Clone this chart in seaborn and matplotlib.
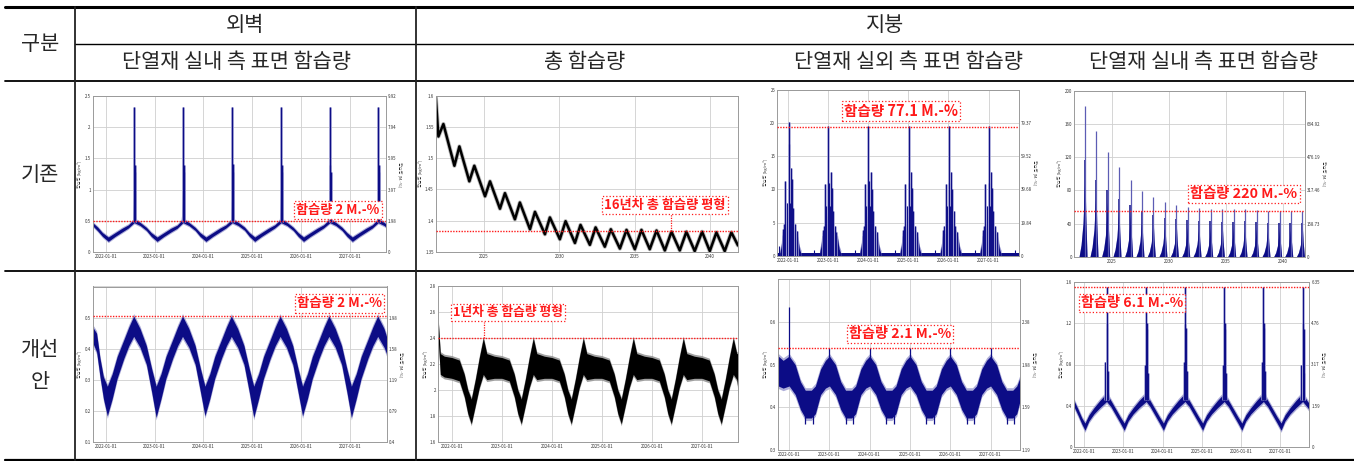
import matplotlib
matplotlib.use("Agg")
import matplotlib.pyplot as plt
import seaborn as sns

sns.set_theme(style="whitegrid")
plt.rcParams['font.family'] = ['Noto Sans CJK KR', 'DejaVu Sans']
plt.rcParams['axes.unicode_minus'] = False

W, H = 1354, 461
NAVY = '#0c0c86'
HALO = '#9a9ad0'
RED = '#ff1a1a'

# ---------------- table texts ----------------
corner = '구분'
col_groups = ['외벽', '지붕']
col_titles = ['단열재 실내 측 표면 함습량', '총 함습량',
              '단열재 실외 측 표면 함습량', '단열재 실내 측 표면 함습량']
row_titles = ['기존', '개선\n안']

date_ticks = [2022, 2023, 2024, 2025, 2026, 2027]
date_labels = ['2022-01-01', '2023-01-01', '2024-01-01',
               '2025-01-01', '2026-01-01', '2027-01-01']
year_ticks = [2025, 2030, 2035, 2040]
year_labels = ['2025', '2030', '2035', '2040']

# ---------------- 1. 기존 외벽 : 단열재 실내 측 ----------------
ow_t = [2021.73, 2021.83, 2021.93,
        2022.05, 2022.19, 2022.33, 2022.46, 2022.58, 2022.70, 2022.83, 2022.93,
        2023.05, 2023.19, 2023.33, 2023.46, 2023.58, 2023.70, 2023.83, 2023.93,
        2024.05, 2024.19, 2024.33, 2024.46, 2024.59, 2024.71, 2024.84, 2024.94,
        2025.05, 2025.19, 2025.33, 2025.46, 2025.59, 2025.71, 2025.84, 2025.94,
        2026.05, 2026.19, 2026.33, 2026.46, 2026.59, 2026.71, 2026.84, 2026.94,
        2027.05, 2027.19, 2027.33, 2027.46, 2027.58, 2027.70, 2027.74]
ow_lo = [0.42, 0.34, 0.25,
         0.17, 0.25, 0.32, 0.385, 0.47, 0.425, 0.345, 0.25,
         0.17, 0.25, 0.32, 0.380, 0.47, 0.425, 0.345, 0.25,
         0.17, 0.25, 0.32, 0.385, 0.47, 0.425, 0.350, 0.25,
         0.17, 0.25, 0.32, 0.385, 0.47, 0.425, 0.345, 0.25,
         0.17, 0.25, 0.32, 0.385, 0.47, 0.425, 0.345, 0.25,
         0.17, 0.25, 0.32, 0.385, 0.47, 0.425, 0.40]
ow_hi = [0.47, 0.40, 0.31,
         0.24, 0.31, 0.38, 0.435, 0.53, 0.475, 0.395, 0.31,
         0.24, 0.31, 0.38, 0.430, 0.53, 0.475, 0.395, 0.31,
         0.24, 0.31, 0.38, 0.435, 0.53, 0.475, 0.400, 0.31,
         0.24, 0.31, 0.38, 0.435, 0.53, 0.475, 0.395, 0.31,
         0.24, 0.31, 0.38, 0.435, 0.53, 0.475, 0.395, 0.31,
         0.24, 0.31, 0.38, 0.435, 0.53, 0.475, 0.45]
ow_pk_t = [2022.58, 2023.58, 2024.59, 2025.59, 2026.59, 2027.58]
ow_pk_h = [2.32, 2.32, 2.32, 2.32, 2.32, 2.32]
ow_pk_h2 = [1.40, 1.40, 1.41, 1.40, 1.40, 1.40]
ow_pk_h3 = [1.29, 1.29, 1.28, 1.29, 1.29, 1.29]
ow_pk_core = [0.95, 0.95, 0.95, 0.95, 0.95, 0.95]

# ---------------- 2. 기존 지붕 : 총 함습량 ----------------
ot_t = [2021.80, 2021.98, 2022.31, 2023.04, 2023.37, 2024.03, 2024.36, 2025.07,
        2025.40, 2026.06, 2026.39, 2027.05, 2027.38, 2028.05, 2028.38, 2029.04,
        2029.37, 2030.03, 2030.41, 2031.03, 2031.40, 2032.02, 2032.40, 2033.01,
        2033.41, 2034.01, 2034.45, 2035.00, 2035.44, 2035.99, 2036.44, 2036.99,
        2037.43, 2037.98, 2038.42, 2038.97, 2039.46, 2039.97, 2040.41, 2040.96,
        2041.40, 2041.84]
ot_v = [1.600, 1.535, 1.555, 1.488, 1.519, 1.463, 1.488, 1.439, 1.463, 1.419,
        1.444, 1.402, 1.429, 1.386, 1.414, 1.378, 1.405, 1.370, 1.399, 1.364,
        1.393, 1.361, 1.389, 1.358, 1.386, 1.355, 1.385, 1.354, 1.385, 1.354,
        1.384, 1.352, 1.382, 1.352, 1.382, 1.351, 1.382, 1.351, 1.381, 1.351,
        1.381, 1.360]

# ---------------- 3. 기존 지붕 : 단열재 실외 측 ----------------
rx_c = [2022.02, 2023.01, 2024.01, 2025.01, 2026.01, 2027.00]
rx_main = [20.2, 19.5, 19.5, 19.5, 19.5, 19.5]
rx_second = [16.8, 11.0, 11.2, 11.0, 11.0, 11.0]
rx_left = [11.2, 10.8, 10.8, 10.8, 10.8, 10.8]
rx_right = [13.2, 12.7, 12.7, 12.7, 12.7, 12.7]
rx_right2 = [11.5, 10.2, 10.0, 10.2, 10.0, 10.2]
rx_mid = [8.0, 7.5, 7.5, 7.5, 7.5, 7.5]
rx_core = [6.5, 6.0, 6.0, 6.0, 6.0, 6.0]
rx_base = [3.1, 3.0, 3.0, 3.0, 3.0, 3.0]
rx_small_t = [2021.77, 2022.66, 2023.67, 2024.67, 2025.66, 2026.66, 2027.65]
rx_small_h = [1.4, 0.8, 0.8, 0.8, 0.8, 0.8, 0.9]

# ---------------- 4. 기존 지붕 : 단열재 실내 측 ----------------
ri_t = [2022.67, 2023.63, 2024.65, 2025.64, 2026.66, 2027.65, 2028.64, 2029.66,
        2030.66, 2031.65, 2032.64, 2033.66, 2034.68, 2035.67, 2036.66, 2037.68,
        2038.67, 2039.69, 2040.66, 2041.68]
ri_h = [181.9, 152.1, 126.8, 107.8, 92.6, 79.7, 71.6, 66.0, 62.4, 59.6,
        58.4, 57.5, 57.1, 57.1, 57.9, 55.9, 55.5, 55.5, 55.5, 55.5]
ri_h2 = [117, 93, 80, 70, 62, 55, 50, 47, 45, 44, 43, 43, 42, 42, 43, 42, 41, 41, 41, 41]
ri_fill = [100, 80, 68, 60, 52, 46, 42, 40, 38, 37, 37, 36, 36, 36, 36, 35, 35, 35, 35, 35]

# ---------------- 5. 개선 외벽 : 단열재 실내 측 ----------------
nw_t = [2021.73, 2021.81, 2021.88, 2021.95,
        2022.03, 2022.13, 2022.23, 2022.37, 2022.47, 2022.57, 2022.70, 2022.83, 2022.94,
        2023.03, 2023.13, 2023.23, 2023.37, 2023.47, 2023.57, 2023.70, 2023.83, 2023.94,
        2024.03, 2024.13, 2024.23, 2024.37, 2024.47, 2024.57, 2024.70, 2024.83, 2024.94,
        2025.03, 2025.13, 2025.23, 2025.37, 2025.47, 2025.57, 2025.70, 2025.83, 2025.94,
        2026.03, 2026.13, 2026.23, 2026.37, 2026.47, 2026.57, 2026.70, 2026.83, 2026.94,
        2027.03, 2027.13, 2027.23, 2027.37, 2027.47, 2027.57, 2027.70, 2027.75]
nw_lo = [0.42, 0.39, 0.31, 0.24,
         0.185, 0.24, 0.305, 0.37, 0.41, 0.44, 0.405, 0.35, 0.26,
         0.180, 0.24, 0.305, 0.37, 0.41, 0.44, 0.405, 0.35, 0.26,
         0.185, 0.24, 0.305, 0.37, 0.41, 0.44, 0.405, 0.35, 0.26,
         0.180, 0.24, 0.305, 0.37, 0.41, 0.44, 0.405, 0.35, 0.26,
         0.185, 0.24, 0.305, 0.37, 0.41, 0.44, 0.405, 0.35, 0.26,
         0.180, 0.24, 0.305, 0.37, 0.41, 0.44, 0.405, 0.385]
nw_hi = [0.47, 0.45, 0.37, 0.31,
         0.28, 0.32, 0.375, 0.43, 0.47, 0.505, 0.465, 0.41, 0.335,
         0.28, 0.32, 0.375, 0.43, 0.47, 0.505, 0.465, 0.41, 0.335,
         0.28, 0.32, 0.375, 0.43, 0.47, 0.505, 0.465, 0.41, 0.335,
         0.28, 0.32, 0.375, 0.43, 0.47, 0.505, 0.465, 0.41, 0.335,
         0.28, 0.32, 0.375, 0.43, 0.47, 0.505, 0.465, 0.41, 0.335,
         0.28, 0.32, 0.375, 0.43, 0.47, 0.505, 0.465, 0.44]

# ---------------- 6. 개선 지붕 : 총 함습량 ----------------
nt_t = [2021.73, 2021.77, 2021.85,
        2022.00, 2022.15, 2022.25, 2022.32, 2022.39, 2022.47, 2022.55, 2022.63, 2022.70, 2022.85,
        2023.00, 2023.15, 2023.25, 2023.32, 2023.39, 2023.47, 2023.55, 2023.63, 2023.70, 2023.85,
        2024.00, 2024.15, 2024.25, 2024.32, 2024.39, 2024.47, 2024.55, 2024.63, 2024.70, 2024.85,
        2025.00, 2025.15, 2025.25, 2025.32, 2025.39, 2025.47, 2025.55, 2025.63, 2025.70, 2025.85,
        2026.00, 2026.15, 2026.25, 2026.32, 2026.39, 2026.47, 2026.55, 2026.63, 2026.70, 2026.85,
        2027.00, 2027.15, 2027.25, 2027.32, 2027.39, 2027.47, 2027.55, 2027.63, 2027.70, 2027.73]
nt_lo = [2.38, 2.12, 2.10,
         2.09, 2.07, 1.95, 1.82, 1.74, 1.88, 2.02, 2.12, 2.08, 2.09,
         2.09, 2.07, 1.95, 1.82, 1.74, 1.88, 2.02, 2.12, 2.08, 2.09,
         2.09, 2.07, 1.95, 1.82, 1.74, 1.88, 2.02, 2.12, 2.08, 2.09,
         2.09, 2.07, 1.95, 1.82, 1.74, 1.88, 2.02, 2.12, 2.08, 2.09,
         2.09, 2.07, 1.95, 1.82, 1.74, 1.88, 2.02, 2.12, 2.08, 2.09,
         2.09, 2.07, 1.95, 1.82, 1.74, 1.88, 2.02, 2.12, 2.08, 1.98]
nt_hi = [2.53, 2.28, 2.26,
         2.25, 2.23, 2.12, 2.00, 1.93, 2.08, 2.25, 2.40, 2.28, 2.26,
         2.25, 2.23, 2.12, 2.00, 1.93, 2.08, 2.25, 2.40, 2.28, 2.26,
         2.25, 2.23, 2.12, 2.00, 1.93, 2.08, 2.25, 2.40, 2.28, 2.26,
         2.25, 2.23, 2.12, 2.00, 1.93, 2.08, 2.25, 2.40, 2.28, 2.26,
         2.25, 2.23, 2.12, 2.00, 1.93, 2.08, 2.25, 2.40, 2.28, 2.26,
         2.25, 2.23, 2.12, 2.00, 1.93, 2.08, 2.25, 2.40, 2.28, 2.28]

# ---------------- 7. 개선 지붕 : 단열재 실외 측 ----------------
nr_t = [2021.73, 2021.85,
        2022.00, 2022.15, 2022.28, 2022.40, 2022.55, 2022.65, 2022.78, 2022.90,
        2023.00, 2023.15, 2023.28, 2023.40, 2023.55, 2023.65, 2023.78, 2023.90,
        2024.00, 2024.15, 2024.28, 2024.40, 2024.55, 2024.65, 2024.78, 2024.90,
        2025.00, 2025.15, 2025.28, 2025.40, 2025.55, 2025.65, 2025.78, 2025.90,
        2026.00, 2026.15, 2026.28, 2026.40, 2026.55, 2026.65, 2026.78, 2026.90,
        2027.00, 2027.15, 2027.28, 2027.40, 2027.55, 2027.65, 2027.73]
nr_lo = [0.45, 0.445,
         0.45, 0.43, 0.395, 0.375, 0.375, 0.385, 0.43, 0.445,
         0.45, 0.43, 0.395, 0.375, 0.375, 0.385, 0.43, 0.445,
         0.45, 0.43, 0.395, 0.375, 0.375, 0.385, 0.43, 0.445,
         0.45, 0.43, 0.395, 0.375, 0.375, 0.385, 0.43, 0.445,
         0.45, 0.43, 0.395, 0.375, 0.375, 0.385, 0.43, 0.445,
         0.45, 0.43, 0.395, 0.375, 0.375, 0.385, 0.415]
nr_hi = [0.52, 0.51,
         0.52, 0.50, 0.46, 0.44, 0.44, 0.45, 0.49, 0.51,
         0.52, 0.50, 0.46, 0.44, 0.44, 0.45, 0.49, 0.51,
         0.52, 0.50, 0.46, 0.44, 0.44, 0.45, 0.49, 0.51,
         0.52, 0.50, 0.46, 0.44, 0.44, 0.45, 0.49, 0.51,
         0.52, 0.50, 0.46, 0.44, 0.44, 0.45, 0.49, 0.51,
         0.52, 0.50, 0.46, 0.44, 0.44, 0.45, 0.47]
nr_pk_t = [2022.00, 2023.00, 2024.00, 2025.00, 2026.00, 2027.00]
nr_pk_h = [0.636, 0.538, 0.538, 0.538, 0.538, 0.538]
nr_dip_t = [2022.39, 2022.60, 2023.41, 2023.59, 2024.40, 2024.60,
            2025.39, 2025.60, 2026.41, 2026.60, 2027.40, 2027.59]
nr_dip_v = [0.36, 0.36, 0.36, 0.36, 0.36, 0.36, 0.36, 0.36, 0.36, 0.36, 0.36, 0.36]

# ---------------- 8. 개선 지붕 : 단열재 실내 측 ----------------
ni_t = [2021.74, 2021.85, 2021.94,
        2022.02, 2022.12, 2022.25, 2022.40, 2022.57, 2022.68, 2022.80, 2022.92,
        2023.02, 2023.12, 2023.25, 2023.40, 2023.58, 2023.68, 2023.80, 2023.92,
        2024.02, 2024.12, 2024.25, 2024.40, 2024.57, 2024.68, 2024.80, 2024.92,
        2025.02, 2025.12, 2025.25, 2025.40, 2025.57, 2025.68, 2025.80, 2025.92,
        2026.02, 2026.12, 2026.25, 2026.40, 2026.57, 2026.68, 2026.80, 2026.92,
        2027.02, 2027.12, 2027.25, 2027.40, 2027.57, 2027.68, 2027.74]
ni_lo = [0.39, 0.30, 0.22,
         0.16, 0.25, 0.32, 0.38, 0.44, 0.39, 0.31, 0.23,
         0.16, 0.25, 0.32, 0.38, 0.44, 0.39, 0.31, 0.23,
         0.16, 0.25, 0.32, 0.38, 0.44, 0.39, 0.31, 0.23,
         0.16, 0.25, 0.32, 0.38, 0.44, 0.39, 0.31, 0.23,
         0.16, 0.25, 0.32, 0.38, 0.44, 0.39, 0.31, 0.23,
         0.16, 0.25, 0.32, 0.38, 0.44, 0.39, 0.36]
ni_hi = [0.45, 0.36, 0.28,
         0.23, 0.31, 0.38, 0.45, 0.52, 0.45, 0.37, 0.29,
         0.23, 0.31, 0.38, 0.45, 0.52, 0.45, 0.37, 0.29,
         0.23, 0.31, 0.38, 0.45, 0.52, 0.45, 0.37, 0.29,
         0.23, 0.31, 0.38, 0.45, 0.52, 0.45, 0.37, 0.29,
         0.23, 0.31, 0.38, 0.45, 0.52, 0.45, 0.37, 0.29,
         0.23, 0.31, 0.38, 0.45, 0.52, 0.45, 0.42]
ni_pk_t = [2022.57, 2023.58, 2024.57, 2025.57, 2026.57, 2027.57]
ni_pk_h = [1.55, 1.55, 1.55, 1.55, 1.55, 1.55]
ni_pk_h2 = [1.20, 1.20, 1.19, 1.20, 1.20, 1.20]
ni_pk_h3 = [1.16, 1.15, 1.16, 1.15, 1.16, 1.15]
ni_pk_h4 = [0.82, 0.80, 0.82, 0.80, 0.82, 0.80]
ni_pk_core = [0.65, 0.65, 0.65, 0.65, 0.65, 0.65]

# ================= figure =================
fig = plt.figure(figsize=(W / 100, H / 100), dpi=100)
bg = fig.add_axes([0, 0, 1, 1], zorder=0)
bg.set_xlim(0, W)
bg.set_ylim(H, 0)
bg.axis('off')

# table rules
bg.plot([5, W], [7, 7], color='black', lw=2.2)
bg.plot([75, W], [44, 44], color='black', lw=1.0)
bg.plot([5, W], [81, 81], color='black', lw=1.3)
bg.plot([5, W], [271, 271], color='black', lw=1.3)
bg.plot([5, W], [460, 460], color='black', lw=1.6)
bg.plot([75, 75], [7, 460], color='#222222', lw=1.3)
bg.plot([416, 416], [7, 460], color='#222222', lw=1.3)

hs = 15
bg.text(40, 44, corner, ha='center', va='center', fontsize=hs)
bg.text(245, 25, col_groups[0], ha='center', va='center', fontsize=hs)
bg.text(885, 25, col_groups[1], ha='center', va='center', fontsize=hs)
for cx, s in zip([236, 585, 908, 1203], col_titles):
    bg.text(cx, 62, s, ha='center', va='center', fontsize=hs)
bg.text(40, 175, row_titles[0], ha='center', va='center', fontsize=hs)
bg.text(40, 366, row_titles[1], ha='center', va='center', fontsize=hs, linespacing=1.55)


def panel(px, xlim, ylim, yticks, ylabels, xticks, xlabels, rlabels=None,
          ylab='함습량 [kg/m³]'):
    L, T, R, B = px
    ax = fig.add_axes([L / W, 1 - B / H, (R - L) / W, (B - T) / H], zorder=2)
    ax.set_facecolor('white')
    ax.set_xlim(*xlim)
    ax.set_ylim(*ylim)
    ax.set_xticks(xticks)
    ax.set_xticklabels(xlabels)
    ax.set_yticks(yticks)
    ax.set_yticklabels(ylabels)
    ax.tick_params(labelsize=3.2, length=0, pad=1.5, colors='#333333')
    ax.grid(True, color='#cfcfcf', lw=0.6)
    for s in ax.spines.values():
        s.set_color('#9a9a9a')
        s.set_linewidth(0.7)
    ax.set_ylabel(ylab, fontsize=3, labelpad=1.5, color='#333333')
    if rlabels is not None:
        ax2 = ax.twinx()
        ax2.set_ylim(*ylim)
        ax2.set_yticks(yticks)
        ax2.set_yticklabels(rlabels)
        ax2.tick_params(labelsize=3.2, length=0, pad=1.5, colors='#333333')
        ax2.grid(False)
        for s in ax2.spines.values():
            s.set_visible(False)
        ax2.set_ylabel('함습량 [M.-%]', fontsize=3, rotation=270, labelpad=4,
                       color='#333333')
    return ax


def band(ax, t, lo, hi, color, halo, pad):
    ax.fill_between(t, [v - pad for v in lo], [v + pad for v in hi],
                    color=halo, lw=0, alpha=0.8)
    ax.fill_between(t, lo, hi, color=color, lw=0)


def limit(ax, y):
    ax.axhline(y, color=RED, lw=1.0, ls=(0, (1, 1)), zorder=4)


def note(text, cx, cy, size):
    fig.text(cx / W, 1 - cy / H, text, ha='center', va='center', fontsize=size,
             fontweight='bold', color=RED, zorder=10,
             bbox=dict(boxstyle='square,pad=0.15', fc='white', ec=RED,
                       ls=':', lw=0.9))


# ---- 1 ----
ax = panel((92.7, 96, 386, 252), (2021.73, 2027.74), (0, 2.5),
           [0, 0.5, 1, 1.5, 2, 2.5], ['0', '0.5', '1', '1.5', '2', '2.5'],
           date_ticks, date_labels,
           ['0', '1.98', '3.97', '5.95', '7.94', '9.92'])
band(ax, ow_t, ow_lo, ow_hi, NAVY, HALO, 0.02)
for p, h1, h2, h3, hc in zip(ow_pk_t, ow_pk_h, ow_pk_h2, ow_pk_h3, ow_pk_core):
    ax.fill_between([p - 0.035, p - 0.01, p + 0.01, p + 0.04], 0.48,
                    [0.5, hc, hc, 0.5], color=NAVY, lw=0)
    ax.vlines([p, p + 0.012, p + 0.022], 0.48, [h1, h2, h3], color=HALO, lw=2.0)
    ax.vlines([p, p + 0.012, p + 0.022], 0.48, [h1, h2, h3], color=NAVY, lw=0.8)
limit(ax, 0.5)
note('함습량 2 M.-%', 338, 210, 9.5)

# ---- 2 ----
ax = panel((435.7, 96, 738, 251.7), (2021.8, 2041.84), (1.35, 1.6),
           [1.35, 1.4, 1.45, 1.5, 1.55, 1.6],
           ['1.35', '1.4', '1.45', '1.5', '1.55', '1.6'],
           year_ticks, year_labels, None, '함습량 [kg/m²]')
sns.lineplot(x=ot_t, y=ot_v, ax=ax, color='#888888', lw=3.0, alpha=0.6)
sns.lineplot(x=ot_t, y=ot_v, ax=ax, color='black', lw=1.8)
limit(ax, 1.384)
ax.plot([2037.43, 2037.43], [1.384, 1.41], color=RED, lw=0.9, ls=(0, (1, 1)))
note('16년차 총 함습량 평형', 665, 205, 9.5)

# ---- 3 ----
ax = panel((777.3, 90, 1018.7, 255.7), (2021.74, 2027.75), (0, 25),
           [0, 5, 10, 15, 20, 25], ['0', '5', '10', '15', '20', '25'],
           date_ticks, date_labels,
           ['0', '19.84', '39.68', '59.52', '79.37', ''])
ax.fill_between([2021.74, 2027.75], 0, 0.35, color=NAVY, lw=0)
for c, hm, h2, hl, hr, hr2, hmid, hc, hb in zip(rx_c, rx_main, rx_second, rx_left,
                                                rx_right, rx_right2, rx_mid,
                                                rx_core, rx_base):
    xs = [c - 0.22, c - 0.18, c - 0.16, c - 0.08, c - 0.03, c + 0.05,
          c + 0.12, c + 0.22, c + 0.27, c + 0.31]
    ys = [0.35, 1.5, hb, hb * 1.15, hc, hc, hb * 1.3, hb, 1.0, 0.35]
    ax.fill_between(xs, 0, [y + 0.5 for y in ys], color=HALO, lw=0)
    ax.fill_between(xs, 0, ys, color=NAVY, lw=0)
    sx = [c - 0.14, c - 0.11, c - 0.08, c - 0.05, c, c + 0.015, c + 0.035,
          c + 0.06, c + 0.09, c + 0.12, c + 0.16, c + 0.2]
    sh = [hb * 1.3, hmid * 0.6, hl, hmid, hm, h2, hmid, hr, hr2, hmid * 0.9,
          hmid * 0.6, hb * 1.2]
    ax.vlines(sx, 0, sh, color=HALO, lw=1.8)
    ax.vlines(sx, 0, sh, color=NAVY, lw=0.7)
ax.vlines(rx_small_t, 0, rx_small_h, color=NAVY, lw=0.8)
limit(ax, 19.43)
note('함습량 77.1 M.-%', 901, 111, 10.5)

# ---- 4 ----
ax = panel((1074, 91, 1305, 256.7), (2021.71, 2041.91), (0, 200),
           [0, 40, 80, 120, 160, 200], ['0', '40', '80', '120', '160', '200'],
           year_ticks, year_labels,
           ['0', '158.73', '317.46', '476.19', '634.92', ''])
for p, h, h2, hf in zip(ri_t, ri_h, ri_h2, ri_fill):
    xs = [p - 0.52, p - 0.34, p - 0.17, p - 0.06, p, p + 0.07, p + 0.18]
    ys = [0, 0.14 * hf, 0.4 * hf, 0.8 * hf, hf, 0.5 * hf, 0]
    ax.fill_between(xs, 0, [y * 1.08 for y in ys], color=HALO, lw=0)
    ax.fill_between(xs, 0, ys, color=NAVY, lw=0)
    ax.vlines([p - 0.02], 0, [h2], color=NAVY, lw=1.1)
    ax.vlines([p], 0, [h], color='#5c5cb4', lw=0.9)
limit(ax, 55.2)
note('함습량 220 M.-%', 1244, 194, 10.3)

# ---- 5 ----
ax = panel((92.7, 286.5, 386.5, 442.3), (2021.73, 2027.75), (0.1, 0.6),
           [0.1, 0.2, 0.3, 0.4, 0.5, 0.6], ['0.1', '0.2', '0.3', '0.4', '0.5', ''],
           date_ticks, date_labels,
           ['0.4', '0.79', '1.19', '1.58', '1.98', ''])
band(ax, nw_t, nw_lo, nw_hi, NAVY, HALO, 0.008)
limit(ax, 0.506)
note('함습량 2 M.-%', 339.5, 303.5, 9.7)

# ---- 6 ----
ax = panel((438.3, 286, 738.3, 442), (2021.73, 2027.73), (1.6, 2.8),
           [1.6, 1.8, 2.0, 2.2, 2.4, 2.6, 2.8],
           ['1.6', '1.8', '2', '2.2', '2.4', '2.6', '2.8'],
           date_ticks, date_labels, None, '함습량 [kg/m²]')
band(ax, nt_t, nt_lo, nt_hi, 'black', '#888888', 0.015)
limit(ax, 2.4)
ax.plot([2022.65, 2022.65], [2.4, 2.526], color=RED, lw=0.9, ls=(0, (1, 1)))
note('1년차 총 함습량 평형', 508, 312.5, 9.2)

# ---- 7 ----
ax = panel((778.3, 279.3, 1020, 450), (2021.73, 2027.73), (0.3, 0.7),
           [0.3, 0.4, 0.5, 0.6, 0.7], ['0.3', '0.4', '0.5', '0.6', ''],
           date_ticks, date_labels,
           ['1.19', '1.59', '1.98', '2.38', ''])
band(ax, nr_t, nr_lo, nr_hi, NAVY, HALO, 0.006)
ax.vlines(nr_pk_t, 0.48, nr_pk_h, color=NAVY, lw=0.9)
ax.vlines(nr_dip_t, nr_dip_v, 0.41, color=NAVY, lw=0.9)
limit(ax, 0.538)
note('함습량 2.1 M.-%', 900, 334, 10.2)

# ---- 8 ----
ax = panel((1074, 282.3, 1309.3, 446.7), (2021.74, 2027.74), (0, 1.6),
           [0, 0.4, 0.8, 1.2, 1.6], ['0', '0.4', '0.8', '1.2', '1.6'],
           date_ticks, date_labels,
           ['0', '1.59', '3.17', '4.76', '6.35'])
band(ax, ni_t, ni_lo, ni_hi, NAVY, HALO, 0.02)
for p, h1, h2, h3, h4, hc in zip(ni_pk_t, ni_pk_h, ni_pk_h2, ni_pk_h3, ni_pk_h4,
                                 ni_pk_core):
    ax.fill_between([p - 0.045, p - 0.01, p + 0.015, p + 0.06], 0.45,
                    [0.5, hc, hc, 0.5], color=NAVY, lw=0)
    sx = [p - 0.03, p, p + 0.012, p + 0.024, p + 0.045]
    sh = [h4, h1, h2, h3, h4 * 0.9]
    ax.vlines(sx, 0.45, sh, color=HALO, lw=1.8)
    ax.vlines(sx, 0.45, sh, color=NAVY, lw=0.7)
limit(ax, 1.55)
note('함습량 6.1 M.-%', 1132, 303, 10.2)

fig.savefig('out.png', dpi=100)
